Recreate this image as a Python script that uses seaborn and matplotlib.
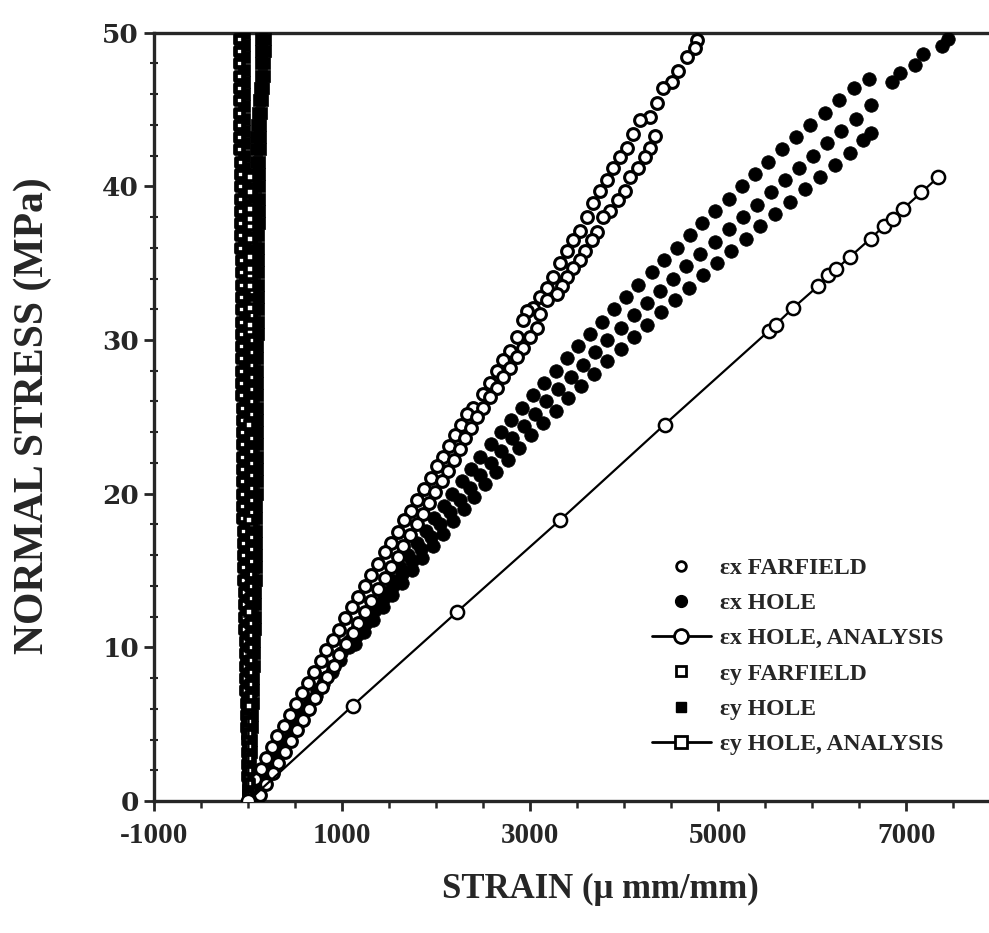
import numpy as np
import pandas as pd
import seaborn as sns
import matplotlib.pyplot as plt
from matplotlib.lines import Line2D

# ---- data (strain in micro mm/mm, stress in MPa) ----
# ex FARFIELD, open circles: two gauges
exff_a_strain = [4770, 4751, 4666, 4570, 4506, 4410, 4346, 4272, 4165, 4090, 4026, 3952, 3877, 3814,
                 3739, 3665, 3601, 3526, 3452, 3388, 3313, 3239, 3175, 3100, 3026, 2962, 2919, 2855,
                 2781, 2706, 2642, 2568, 2493, 2387, 2323, 2260, 2200, 2140, 2070, 2010, 1940, 1870,
                 1800, 1730, 1660, 1590, 1520, 1450, 1380, 1310, 1240, 1170, 1100, 1030, 960, 900,
                 830, 770, 700, 640, 570, 510, 440, 380, 310, 250, 190, 130, 70, 20, 0]
exff_a_stress = [49.5, 49.0, 48.4, 47.5, 46.8, 46.4, 45.4, 44.5, 44.3, 43.4, 42.5, 41.9, 41.2, 40.4,
                 39.7, 38.9, 38.0, 37.1, 36.5, 35.8, 35.0, 34.1, 33.4, 32.8, 32.1, 31.9, 31.3, 30.2,
                 29.3, 28.7, 28.0, 27.2, 26.5, 25.6, 25.2, 24.5, 23.8, 23.1, 22.4, 21.8, 21.0, 20.3,
                 19.6, 18.9, 18.3, 17.5, 16.8, 16.2, 15.4, 14.7, 14.0, 13.3, 12.6, 11.9, 11.1, 10.5,
                 9.8, 9.1, 8.4, 7.7, 7.0, 6.3, 5.6, 4.9, 4.2, 3.5, 2.8, 2.1, 1.4, 0.7, 0.0]
exff_b_strain = [4325, 4272, 4218, 4144, 4059, 4005, 3931, 3846, 3771, 3707, 3654, 3580, 3526, 3452,
                 3388, 3335, 3281, 3175, 3100, 3068, 2994, 2919, 2855, 2781, 2706, 2642, 2568, 2493,
                 2429, 2370, 2310, 2250, 2190, 2120, 2060, 1990, 1920, 1860, 1790, 1720, 1650, 1590,
                 1520, 1450, 1380, 1310, 1240, 1170, 1110, 1040, 970, 910, 840, 780, 710, 650, 580,
                 520, 450, 390, 320, 260, 190, 120]
exff_b_stress = [43.3, 42.5, 41.9, 41.2, 40.6, 39.7, 39.1, 38.4, 38.0, 37.0, 36.5, 35.8, 35.2, 34.7,
                 34.1, 33.5, 33.0, 32.6, 31.7, 30.8, 30.2, 29.5, 28.9, 28.2, 27.6, 26.9, 26.3, 25.6,
                 25.0, 24.3, 23.6, 22.9, 22.2, 21.5, 20.8, 20.1, 19.4, 18.7, 18.0, 17.3, 16.6, 15.9,
                 15.2, 14.5, 13.8, 13.0, 12.3, 11.6, 10.9, 10.2, 9.5, 8.8, 8.1, 7.4, 6.7, 6.0, 5.3,
                 4.6, 3.9, 3.2, 2.5, 1.8, 1.1, 0.4]

# ex HOLE, filled circles: three gauges + last readings
exh_a_stress = [0.0, 0.8, 1.6, 2.4, 3.2, 4.0, 4.8, 5.6, 6.4, 7.2, 8.0, 8.8, 9.6, 10.4, 11.2, 12.0,
                12.8, 13.6, 14.4, 15.2, 16.0, 16.8, 17.6, 18.4, 19.2, 20.0, 20.8, 21.6, 22.4, 23.2,
                24.0, 24.8, 25.6, 26.4, 27.2, 28.0, 28.8, 29.6, 30.4, 31.2, 32.0, 32.8, 33.6, 34.4,
                35.2, 36.0, 36.8, 37.6, 38.4, 39.2, 40.0, 40.8, 41.6, 42.4, 43.2, 44.0, 44.8, 45.6,
                46.4, 47.0]
exh_a_strain = [0, 80, 160, 240, 320, 400, 480, 565, 650, 730, 815, 900, 985, 1070, 1160, 1250,
                1340, 1430, 1520, 1610, 1700, 1790, 1890, 1980, 2080, 2170, 2270, 2370, 2470, 2580,
                2690, 2800, 2910, 3030, 3150, 3270, 3390, 3510, 3640, 3760, 3890, 4020, 4150, 4290,
                4420, 4560, 4700, 4830, 4970, 5110, 5250, 5390, 5530, 5680, 5830, 5980, 6130, 6280,
                6440, 6600]
exh_b_stress = [0.4, 1.2, 2.0, 2.8, 3.6, 4.4, 5.2, 6.0, 6.8, 7.6, 8.4, 9.2, 10.0, 10.8, 11.6, 12.4,
                13.2, 14.0, 14.8, 15.6, 16.4, 17.2, 18.0, 18.8, 19.6, 20.4, 21.2, 22.0, 22.8, 23.6,
                24.4, 25.2, 26.0, 26.8, 27.6, 28.4, 29.2, 30.0, 30.8, 31.6, 32.4, 33.2, 34.0, 34.8,
                35.6, 36.4, 37.2, 38.0, 38.8, 39.6, 40.4, 41.2, 42.0, 42.8, 43.6, 44.4, 45.3]
exh_b_strain = [40, 125, 210, 290, 375, 460, 545, 630, 720, 800, 890, 980, 1070, 1160, 1250, 1350,
                1440, 1540, 1640, 1740, 1840, 1940, 2040, 2150, 2250, 2360, 2470, 2580, 2690, 2810,
                2930, 3050, 3170, 3300, 3430, 3560, 3690, 3820, 3960, 4100, 4240, 4380, 4520, 4660,
                4810, 4960, 5110, 5260, 5410, 5560, 5710, 5860, 6010, 6160, 6310, 6460, 6620]
exh_c_stress = [10.2, 11.0, 11.8, 12.6, 13.4, 14.2, 15.0, 15.8, 16.6, 17.4, 18.2, 19.0, 19.8, 20.6,
                21.4, 22.2, 23.0, 23.8, 24.6, 25.4, 26.2, 27.0, 27.8, 28.6, 29.4, 30.2, 31.0, 31.8,
                32.6, 33.4, 34.2, 35.0, 35.8, 36.6, 37.4, 38.2, 39.0, 39.8, 40.6, 41.4, 42.2, 43.0,
                43.5, 46.8, 47.4, 47.9, 48.6, 49.1, 49.6]
exh_c_strain = [1130, 1230, 1330, 1430, 1530, 1640, 1740, 1850, 1960, 2070, 2180, 2290, 2400, 2520,
                2640, 2760, 2880, 3010, 3140, 3270, 3400, 3540, 3680, 3820, 3960, 4100, 4240, 4390,
                4540, 4690, 4840, 4990, 5140, 5290, 5440, 5600, 5760, 5920, 6080, 6240, 6400, 6540,
                6620, 6850, 6935, 7090, 7180, 7380, 7445]

# ex HOLE, ANALYSIS
exan_strain = [0, 1110, 2220, 3320, 4430, 5540, 5610, 5800, 6060, 6170, 6250, 6400, 6620, 6760,
               6860, 6960, 7160, 7340]
exan_stress = [0.0, 6.2, 12.3, 18.3, 24.5, 30.6, 31.0, 32.1, 33.5, 34.2, 34.6, 35.4, 36.6, 37.4,
               37.9, 38.5, 39.6, 40.6]

# ey FARFIELD, open squares: two gauges
eyff_a_stress = [0.0, 0.8, 1.6, 2.4, 3.2, 4.0, 4.8, 5.6, 6.4, 7.2, 8.0, 8.8, 9.6, 10.4, 11.2, 12.0,
                 12.8, 13.6, 14.4, 15.2, 16.0, 16.8, 17.6, 18.4, 19.2, 20.0, 20.8, 21.6, 22.4, 23.2,
                 24.0, 24.8, 25.6, 26.4, 27.2, 28.0, 28.8, 29.6, 30.4, 31.2, 32.0, 32.8, 33.6, 34.4,
                 35.2, 36.0, 36.8, 37.6, 38.4, 39.2, 40.0, 40.8, 41.6, 42.4, 43.2, 44.0, 44.8, 45.6,
                 46.4, 47.2, 48.0, 48.8, 49.6]
eyff_a_strain = [0, -5, -10, -10, -15, -15, -20, -25, -25, -30, -30, -35, -40, -40, -45, -45, -50,
                 -50, -55, -55, -60, -60, -60, -65, -65, -65, -65, -70, -70, -70, -70, -70, -70, -75,
                 -75, -75, -75, -75, -75, -75, -80, -80, -80, -80, -80, -85, -85, -85, -85, -90,
                 -90, -90, -90, -95, -95, -95, -95, -95, -100, -100, -100, -100, -100]
eyff_b_stress = [0.4, 1.2, 2.0, 2.8, 3.6, 4.4, 5.2, 6.0, 6.8, 7.6, 8.4, 9.2, 10.0, 10.8, 11.6, 12.4,
                 13.2, 14.0, 14.8, 15.6, 16.4, 17.2, 18.0, 18.8, 19.6, 20.4, 21.2, 22.0, 22.8, 23.6,
                 24.4, 25.2, 26.0, 26.8, 27.6, 28.4, 29.2, 30.0, 30.8, 31.6, 32.4, 33.2, 34.0, 34.8,
                 35.6, 36.4, 37.2, 38.0, 38.8, 39.6, 40.4]
eyff_b_strain = [0, 5, 5, 5, 10, 10, 10, 10, 15, 15, 15, 15, 15, 20, 20, 20, 20, 20, 20, 25, 25,
                 25, 25, 25, 25, 25, 25, 30, 30, 30, 30, 30, 30, 30, 30, 30, 30, 30, 30, 30, 30, 30,
                 30, 30, 30, 30, 30, 30, 30, 30, 30]

# ey HOLE, filled squares: three gauges
eyh_a_stress = [0.0, 0.8, 1.6, 2.4, 3.2, 4.0, 4.8, 5.6, 6.4, 7.2, 8.0, 8.8, 9.6, 10.4, 11.2, 12.0,
                12.8, 13.6, 14.4, 15.2, 16.0, 16.8, 17.6, 18.4, 19.2, 20.0, 20.8, 21.6, 22.4, 23.2,
                24.0, 24.8, 25.6, 26.4, 27.2, 28.0, 28.8, 29.6, 30.4, 31.2, 32.0, 32.8, 33.6, 34.4,
                35.2, 36.0, 36.8, 37.6, 38.4, 39.2, 40.0, 40.8, 41.6, 42.4, 43.2, 44.0, 44.8, 45.6,
                46.4, 47.2, 48.0, 48.8, 49.6]
eyh_a_strain = [0, 10, 15, 20, 25, 30, 35, 40, 45, 50, 55, 60, 60, 65, 70, 70, 75, 75, 80, 80, 80,
                85, 85, 85, 85, 90, 90, 90, 90, 90, 90, 95, 95, 95, 95, 95, 95, 95, 100, 100, 100,
                100, 100, 105, 105, 105, 105, 110, 110, 110, 110, 115, 115, 120, 120, 125, 140,
                150, 160, 170, 170, 175, 175]
eyh_b_stress = [0.4, 1.2, 2.0, 2.8, 3.6, 4.4, 5.2, 6.0, 6.8, 7.6, 8.4, 9.2, 10.0, 10.8, 11.6, 12.4,
                13.2, 14.0, 14.8, 15.6, 16.4, 17.2, 18.0, 18.8, 19.6, 20.4, 21.2, 22.0, 22.8, 23.6,
                24.4, 25.2, 26.0, 26.8, 27.6, 28.4, 29.2, 30.0, 30.8, 31.6, 32.4, 33.2, 34.0, 34.8,
                35.6, 36.4, 37.2, 38.0, 38.8, 39.6, 40.4, 41.2, 42.0, 42.8, 43.6, 44.4, 45.2, 46.0,
                46.8, 47.6, 48.4, 49.2, 50.0]
eyh_b_strain = [0, 0, 0, -5, -5, -10, -10, -10, -15, -15, -15, -20, -20, -20, -20, -25, -25, -25,
                -25, -25, -30, -30, -30, -30, -30, -30, -30, -35, -35, -35, -35, -35, -35, -35,
                -35, -35, -40, -40, -40, -40, -40, -40, -40, -40, -40, -45, -45, -45, -45, -45,
                -45, -45, -45, -45, -50, -50, -50, -50, -50, -50, -50, -50, -50]
eyh_c_strain = [0, 5, 5, 10, 10, 15, 15, 20, 20, 25, 25, 30, 30, 35, 35, 35, 40, 40, 40, 45, 45,
                45, 45, 50, 50, 50, 50, 50, 55, 55, 55, 55, 55, 55, 60, 60, 60, 60, 60, 60, 65, 65,
                65, 65, 65, 70, 70, 70, 70, 75, 75, 75, 80, 80, 85, 90, 100, 110, 120, 130, 130,
                140, 140]

# ey HOLE, ANALYSIS
eyan_strain = [0, 5, 5, 10, 10, 15, 15, 15, 15, 15, 15, 15, 20, 20, 20, 20, 20, 20]
eyan_stress = exan_stress

sns.set_style("ticks")
plt.rcParams['font.family'] = ['Liberation Serif', 'DejaVu Serif']
plt.rcParams['font.weight'] = 'bold'
plt.rcParams['axes.unicode_minus'] = False

fig = plt.figure(figsize=(9.89, 9.33), dpi=100)
ax = fig.add_axes([0.156, 0.1415, 0.844, 0.8235])

open_c = dict(marker='o', s=72, facecolor='white', edgecolor='black', linewidth=2.2, zorder=3)
fill_c = dict(marker='o', s=95, color='black', edgecolor='black', linewidth=0.5, zorder=3)
open_s = dict(marker='s', s=34, facecolor='white', edgecolor='black', linewidth=3.4, zorder=4)
fill_s = dict(marker='s', s=70, color='black', edgecolor='black', linewidth=0.5, zorder=3)

sns.scatterplot(x=eyh_a_strain, y=eyh_a_stress, ax=ax, **fill_s)
sns.scatterplot(x=eyh_b_strain, y=eyh_b_stress, ax=ax, **fill_s)
sns.scatterplot(x=eyh_c_strain, y=eyh_a_stress, ax=ax, **fill_s)
sns.scatterplot(x=eyff_a_strain, y=eyff_a_stress, ax=ax, **open_s)
sns.scatterplot(x=eyff_b_strain, y=eyff_b_stress, ax=ax, **open_s)
sns.lineplot(x=eyan_strain, y=eyan_stress, ax=ax, sort=False, estimator=None, color='black',
             lw=1.5, marker='s', ms=6, mfc='white', mec='black', mew=2.6, zorder=5)

sns.scatterplot(x=exh_a_strain, y=exh_a_stress, ax=ax, **fill_c)
sns.scatterplot(x=exh_b_strain, y=exh_b_stress, ax=ax, **fill_c)
sns.scatterplot(x=exh_c_strain, y=exh_c_stress, ax=ax, **fill_c)
sns.scatterplot(x=exff_a_strain, y=exff_a_stress, ax=ax, **open_c)
sns.scatterplot(x=exff_b_strain, y=exff_b_stress, ax=ax, **open_c)
sns.lineplot(x=exan_strain, y=exan_stress, ax=ax, sort=False, estimator=None, color='black',
             lw=1.6, marker='o', ms=9.5, mfc='white', mec='black', mew=1.8, zorder=5)

ax.set_xlim(-1000, 7880)
ax.set_ylim(0, 50)
ax.set_xticks([-1000, 1000, 3000, 5000, 7000])
ax.set_xticks(np.arange(-500, 7880, 500), minor=True)
ax.set_yticks([0, 10, 20, 30, 40, 50])
ax.set_yticks(np.arange(0, 51, 2), minor=True)
for s in ['left', 'bottom', 'top']:
    ax.spines[s].set_linewidth(2.4)
ax.spines['right'].set_visible(False)
ax.tick_params(axis='both', which='major', direction='out', length=7, width=2)
ax.tick_params(axis='x', which='major', labelsize=21, pad=8)
ax.tick_params(axis='y', which='major', labelsize=19, pad=4)
ax.tick_params(axis='x', which='minor', direction='out', length=5, width=1.8)
ax.tick_params(axis='y', which='minor', direction='inout', length=6, width=1.5)
for lab in ax.get_xticklabels():
    lab.set_fontweight('bold')
for lab in ax.get_yticklabels():
    lab.set_fontweight('bold')
    lab.set_family('DejaVu Serif')

ax.set_xlabel('STRAIN (\u03bc mm/mm)', fontsize=25, fontweight='bold')
ax.set_ylabel('NORMAL STRESS (MPa)', fontsize=30, fontweight='bold')
ax.xaxis.set_label_coords(0.534, -0.094)
ax.yaxis.set_label_coords(-0.122, 0.502)

handles = [
    Line2D([], [], ls='none', marker='o', ms=7, mfc='white', mec='black', mew=2),
    Line2D([], [], ls='none', marker='o', ms=8.5, mfc='black', mec='black'),
    Line2D([], [], color='black', lw=2, marker='o', ms=10, mfc='white', mec='black', mew=2),
    Line2D([], [], ls='none', marker='s', ms=7, mfc='white', mec='black', mew=2),
    Line2D([], [], ls='none', marker='s', ms=7, mfc='black', mec='black'),
    Line2D([], [], color='black', lw=2, marker='s', ms=9, mfc='white', mec='black', mew=2),
]
labels = ['\u03b5x FARFIELD', '\u03b5x HOLE', '\u03b5x HOLE, ANALYSIS',
          '\u03b5y FARFIELD', '\u03b5y HOLE', '\u03b5y HOLE, ANALYSIS']
ax.legend(handles, labels, loc='upper left', bbox_to_anchor=(0.596, 0.317), frameon=False,
          borderaxespad=0, borderpad=0, handlelength=2.5, handletextpad=0.4, labelspacing=0.58,
          prop={'family': 'Liberation Serif', 'weight': 'bold', 'size': 17})

fig.savefig('out.png', dpi=100)
